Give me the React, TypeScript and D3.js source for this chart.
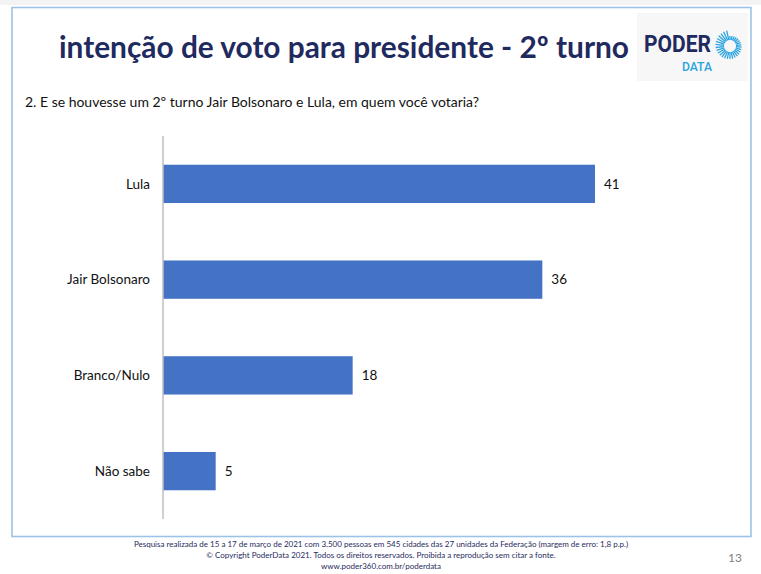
import React from "react";
import * as d3 from "d3";

const categories = ["Lula", "Jair Bolsonaro", "Branco/Nulo", "Não sabe"];
const values = [41, 36, 18, 5];

const titleText = "intenção de voto para presidente - 2º turno";
const questionText = "2. E se houvesse um 2º turno Jair Bolsonaro e Lula, em quem você votaria?";
const footerLines = [
  "Pesquisa realizada de 15 a 17 de março de 2021 com 3.500 pessoas em 545 cidades das 27 unidades da Federação (margem de erro: 1,8 p.p.)",
  "© Copyright PoderData 2021. Todos os direitos reservados. Proibida a reprodução sem citar a fonte.",
  "www.poder360.com.br/poderdata",
];
const pageNumber = "13";

const W = 761;
const H = 574;
const FONT = "Lato, 'Open Sans', sans-serif";
const NAVY = "#1f2a5e";
const BAR = "#4472c4";

export default function App() {
  const x = d3.scaleLinear().domain([0, 41]).range([163, 595]);
  const y = d3
    .scaleBand<string>()
    .domain(categories)
    .range([136, 519])
    .paddingInner(0.6)
    .paddingOuter(0.3);

  // sunburst rays of the logo
  const cx = 730;
  const cy = 46;
  const nRays = 30;
  const rays = d3.range(nRays).map((i) => {
    const t = i / nRays;
    const a = -Math.PI / 2 + t * Math.PI * 2;
    const r0 = 6;
    const r1 = 10 + 6 * t;
    return { a, r0, r1 };
  });

  return (
    <svg
      width={W}
      height={H}
      viewBox={`0 0 ${W} ${H}`}
      style={{ position: "absolute", left: 0, top: 0, background: "#fff" }}
    >
      <rect x={0} y={0} width={W} height={5} fill="#f3f3f3" />
      <rect x={12} y={7.5} width={739} height={529} fill="#fff" stroke="#9cc3e6" strokeWidth={1.6} />

      {/* logo */}
      <rect x={637} y={13} width={111} height={68} fill="#f7f7f7" />
      <text x={644} y={52} fontFamily="'Liberation Sans Narrow', Roboto, sans-serif" fontWeight={700} fontSize={23} fill={NAVY} textLength={67} lengthAdjust="spacingAndGlyphs">
        PODER
      </text>
      <text x={682} y={71} fontFamily="Roboto, sans-serif" fontWeight={500} fontSize={12} fill="#2aa3df" textLength={30} lengthAdjust="spacingAndGlyphs">
        DATA
      </text>
      <g stroke="#2aa3df" strokeWidth={1.3}>
        {rays.map((r, i) => (
          <line
            key={i}
            x1={cx + r.r0 * Math.cos(r.a)}
            y1={cy + r.r0 * Math.sin(r.a)}
            x2={cx + r.r1 * Math.cos(r.a)}
            y2={cy + r.r1 * Math.sin(r.a)}
          />
        ))}
      </g>

      <text x={344} y={58} textAnchor="middle" fontFamily={FONT} fontWeight={700} fontSize={29.5} fill={NAVY} textLength={570} lengthAdjust="spacingAndGlyphs">
        {titleText}
      </text>
      <text x={25} y={107} fontFamily={FONT} fontSize={13.5} fill="#111" textLength={454} lengthAdjust="spacingAndGlyphs">
        {questionText}
      </text>

      {categories.map((c, i) => (
        <g key={c}>
          <rect
            x={x(0)}
            y={y(c)!}
            width={x(values[i]) - x(0)}
            height={y.bandwidth()}
            fill={BAR}
          />
          <text
            x={150}
            y={y(c)! + y.bandwidth() / 2}
            dy="0.35em"
            textAnchor="end"
            fontFamily={FONT}
            fontSize={13.5}
            fill="#111"
          >
            {c}
          </text>
          <text
            x={x(values[i]) + 9}
            y={y(c)! + y.bandwidth() / 2}
            dy="0.35em"
            fontFamily={FONT}
            fontSize={13.5}
            fill="#111"
          >
            {values[i]}
          </text>
        </g>
      ))}

      <line x1={x(0)} x2={x(0)} y1={136} y2={519} stroke="#bfbfbf" strokeWidth={1.5} />

      {footerLines.map((l, i) => (
        <text
          key={i}
          x={381}
          y={547 + i * 11}
          textAnchor="middle"
          fontFamily={FONT}
          fontSize={8}
          fill="#1f2a5e"
        >
          {l}
        </text>
      ))}
      <text x={735} y={562} textAnchor="middle" fontFamily={FONT} fontSize={12} fill="#7f7f7f">
        {pageNumber}
      </text>
    </svg>
  );
}
